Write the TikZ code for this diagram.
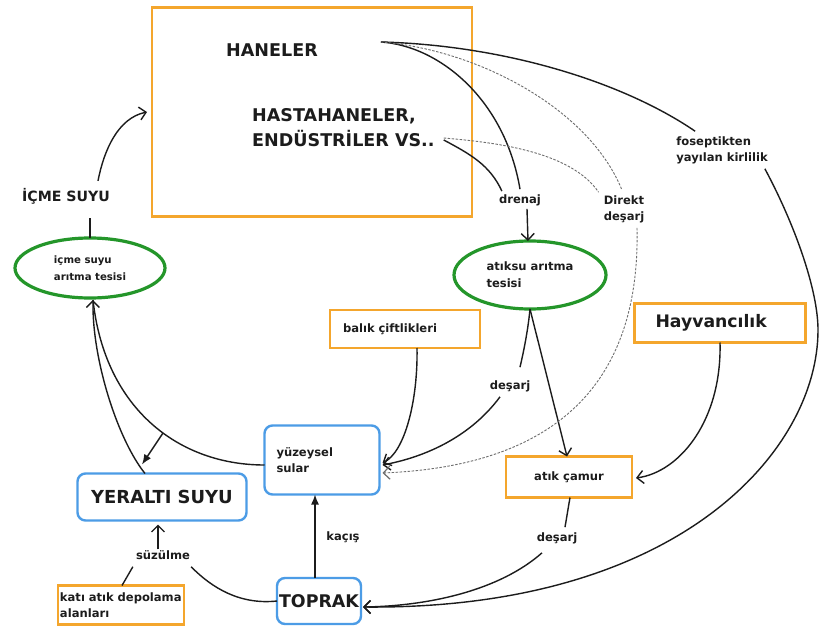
\documentclass[tikz,border=0pt]{standalone}
\usepackage{fontspec}
\setmainfont{DejaVu Sans}
\usetikzlibrary{shapes.geometric,arrows.meta,calc}
\definecolor{myorange}{RGB}{244,166,45}
\definecolor{myblue}{RGB}{76,156,230}
\definecolor{mygreen}{RGB}{36,150,42}
\definecolor{txt}{RGB}{28,28,28}
\definecolor{dgray}{RGB}{110,110,110}
\tikzset{
  obox/.style={draw=myorange, line width=2.6bp, rectangle, inner sep=0bp, outer sep=0bp, text=txt},
  bbox/.style={draw=myblue, line width=2.4bp, rectangle, rounded corners=8bp, inner sep=0bp, outer sep=0bp, text=txt},
  gell/.style={draw=mygreen, line width=3.2bp, ellipse, inner sep=0bp, outer sep=0bp, text=txt},
  lbl/.style={font=\bfseries\fontsize{11.6}{16}\selectfont, text=txt, inner sep=1bp},
  big/.style={font=\bfseries\fontsize{17.6}{25}\selectfont},
  small/.style={font=\bfseries\fontsize{11.6}{16}\selectfont},
  con/.style={line width=1.4bp, draw=txt},
  arr/.style={con, -{Straight Barb[length=6.5bp,width=13bp]}},
  farr/.style={con, -{Latex[length=10bp,width=8bp]}},
  dsh/.style={line width=0.9bp, draw=dgray, dash pattern=on 2.5bp off 1.5bp},
  darr/.style={dsh, -{Straight Barb[length=6.5bp,width=13bp,line width=1.2bp]}},
}
\begin{document}
\begin{tikzpicture}[x=1bp,y=-1bp]
\fill[white] (0,0) rectangle (819,628);
\useasboundingbox (0,0) rectangle (819,628);

% nodes
\node[obox, minimum width=320bp, minimum height=209bp] (hh) at (312,112) {};
\node[lbl, big] (han) at (272,50) {HANELER};
\node[lbl, big, anchor=west, align=left, inner sep=0bp] (hast) at (252,128) {HASTAHANELER,\\ENDÜSTRİLER VS..};
\node[lbl, font=\bfseries\fontsize{14.2}{17}\selectfont] (icme) at (66,196) {İÇME SUYU};
\node[gell, minimum width=150bp, minimum height=60bp, align=left, font=\bfseries\fontsize{10.2}{17}\selectfont] (icts) at (90,268) {içme suyu\\arıtma tesisi};
\node[gell, minimum width=152bp, minimum height=68bp, align=left, font=\bfseries\fontsize{11.6}{17}\selectfont] (atts) at (530,275) {atıksu arıtma\\tesisi};
\node[lbl] (drenaj) at (520,200) {drenaj};
\node[lbl, align=left] (direkt) at (624,209) {Direkt\\deşarj};
\node[lbl, align=left] (fos) at (722,150) {foseptikten\\yayılan kirlilik};
\node[obox, small, minimum width=150bp, minimum height=38bp, text width=124bp, inner xsep=13bp, align=left] (balik) at (405,329) {balık çiftlikleri};
\node[obox, minimum width=171bp, minimum height=39bp, text width=129bp, inner xsep=21bp, align=left, font=\bfseries\fontsize{17.3}{20}\selectfont] (hayv) at (720,323) {Hayvancılık};
\node[obox, small, minimum width=126bp, minimum height=41bp] (camur) at (569,477) {atık çamur};
\node[bbox, small, minimum width=115bp, minimum height=69bp, text width=91bp, inner xsep=12bp, align=left] (yuz) at (322,460) {yüzeysel\\sular};
\node[bbox, font=\bfseries\fontsize{18}{20}\selectfont, minimum width=169bp, minimum height=47bp] (yer) at (162,497) {YERALTI SUYU};
\node[bbox, font=\bfseries\fontsize{17.5}{20}\selectfont, minimum width=84bp, minimum height=46bp] (top) at (319,601) {TOPRAK};
\node[obox, small, minimum width=126bp, minimum height=39bp, text width=122bp, inner xsep=2bp, align=left] (kati) at (121,605) {katı atık depolama\\alanları};
\node[lbl] (suz) at (163,555) {süzülme};
\node[lbl] (kacis) at (343,537) {kaçış};
\node[lbl] (des1) at (510,386) {deşarj};
\node[lbl] (des2) at (557,538) {deşarj};

% helper coordinates
\coordinate (hs) at ($(han.east)+(62,-8)$);
\coordinate (es) at ($(hast.east)+(9,12)$);
\coordinate (mid) at (163,433);

% içme suyu
\draw[con] (icts.north) -- ($(icts.north)+(0,-20)$);
\draw[arr] ($(icme.north)+(32,-6)$) .. controls (104,150) and (118,118) .. ($(hh.west)+(-5,0)$);
% to içme suyu arıtma
\draw[arr] ($(yer.north)+(-17,0)$) .. controls (118,440) and (92,360) .. ($(icts.south)+(3,2)$);
\draw[con] ($(yuz.west)+(0,5)$) .. controls (180,465) and (105,410) .. ($(icts.south)+(3,2)$);
\draw[farr] (mid) -- ($(yer.north)+(-20,-9)$);
% toprak
\draw[farr] ($(top.north)+(-4,0)$) -- ($(top.north |- yuz.south)+(-4,0)$);
\draw[con] (top.west) .. controls (240,605) and (212,588) .. ($(suz.south east)+(0,6)$);
\draw[arr] ($(suz.north)+(-5,0)$) -- ($(yer.south)+(-4,4)$);
\draw[con] ($(kati.north)+(1,0)$) -- ($(suz.south west)+(-2,6)$);
% balık çiftlikleri
\draw[arr] ($(balik.south)+(12,0)$) .. controls (418,400) and (405,452) .. ($(yuz.east)+(3,3)$);
% atıksu arıtma
\draw[con] (atts.south) .. controls (528,330) and (524,350) .. ($(des1.north)+(10,-12)$);
\draw[arr] ($(des1.south)+(-10,4)$) .. controls (468,440) and (420,458) .. ($(yuz.east)+(3,5)$);
\draw[arr] (atts.south) -- ($(camur.north)+(-2,0)$);
% hayvancılık
\draw[arr] (hayv.south) .. controls (722,420) and (680,472) .. ($(camur.east)+(4,1)$);
% atık çamur
\draw[con] ($(camur.south)+(1,0)$) -- ($(des2.north)+(8,-4)$);
\draw[arr] ($(des2.south)+(-15,8)$) .. controls (500,590) and (430,606) .. ($(top.east)+(2,6)$);
% foseptikten
\draw[con] (hs) .. controls (500,45) and (620,80) .. ($(fos.north west)+(20,-4)$);
\draw[arr] ($(fos.south east)+(-4,4)$) .. controls (795,225) and (818,290) .. (818,330)
  .. controls (818,450) and (680,610) .. ($(top.east)+(2,6)$);
% drenaj
\draw[con] (hs) .. controls (440,46) and (505,100) .. ($(drenaj.north)+(0,-4)$);
\draw[con] (es) .. controls (470,154) and (490,165) .. ($(drenaj.north west)+(4,-2)$);
\draw[arr] ($(drenaj.south)+(7,2)$) -- ($(atts.north)+(-2,0)$);
% direkt deşarj
\draw[dsh] (hs) .. controls (480,50) and (590,110) .. ($(direkt.north)+(-2,-4)$);
\draw[dsh] ($(es)+(0,-2)$) .. controls (490,142) and (570,150) .. ($(direkt.north west)+(-4,-2)$);
\draw[darr] ($(direkt.south)+(13,4)$) .. controls (640,360) and (580,465) .. ($(yuz.east)+(3,13)$);
\end{tikzpicture}
\end{document}
